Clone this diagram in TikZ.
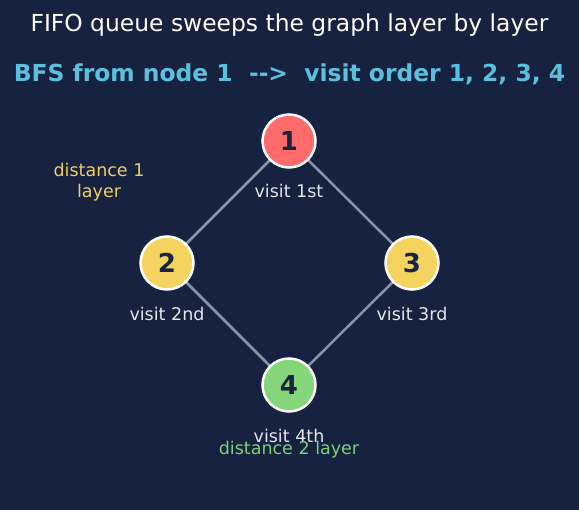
\documentclass[tikz,border=0pt]{standalone}
\usepackage{fontspec}
\setmainfont{DejaVu Sans}
\definecolor{bg}{HTML}{172240}
\definecolor{edgec}{HTML}{8A93AC}
\definecolor{nred}{HTML}{FF6B6B}
\definecolor{nyel}{HTML}{F4D35E}
\definecolor{ngrn}{HTML}{85D67A}
\definecolor{ndark}{HTML}{1A2340}
\definecolor{lbl}{HTML}{E2E6EF}
\definecolor{sub}{HTML}{5BC0DE}
\definecolor{dyel}{HTML}{EDCF6A}
\definecolor{dgrn}{HTML}{7FCF78}
\begin{document}
\begin{tikzpicture}[x=1pt,y=-1pt,
  vnode/.style={circle,draw=white,line width=2.5pt,minimum size=53pt,inner sep=0pt,
    font=\fontsize{26}{30}\selectfont\bfseries,text=ndark},
  vlabel/.style={font=\fontsize{17.5}{21}\selectfont,text=lbl},
  edge/.style={draw=edgec,line width=2.5pt}]
\fill[bg] (0,0) rectangle (579,510);
\useasboundingbox (0,0) rectangle (579,510);
\node[font=\fontsize{23.4}{28}\selectfont,text=white] (title) at (289.5,25) {FIFO queue sweeps the graph layer by layer};
\node[font=\fontsize{23.4}{28}\selectfont\bfseries,text=sub] (subtitle) at (289.5,74) {BFS from node 1\ \ -{}-{}>\ \ visit order 1, 2, 3, 4};
\coordinate (p1) at (289,141);
\coordinate (p2) at (167,263);
\coordinate (p3) at (412,263);
\coordinate (p4) at (289,385);
\draw[edge] (p1) -- (p2);
\draw[edge] (p1) -- (p3);
\draw[edge] (p2) -- (p4);
\draw[edge] (p3) -- (p4);
\node[vnode,fill=nred] (n1) at (p1) {1};
\node[vnode,fill=nyel] (n2) at (p2) {2};
\node[vnode,fill=nyel] (n3) at (p3) {3};
\node[vnode,fill=ngrn] (n4) at (p4) {4};
\node[vlabel] (l1) at (289,191) {visit 1st};
\node[vlabel] (l2) at (167,314) {visit 2nd};
\node[vlabel] (l3) at (412,314) {visit 3rd};
\node[vlabel] (l4) at (289,436) {visit 4th};
\node[vlabel,text=dyel,align=center] (d1) at (99,182) {distance 1\\layer};
\node[vlabel,text=dgrn] (d2) at (289,450) {distance 2 layer};
\end{tikzpicture}
\end{document}
